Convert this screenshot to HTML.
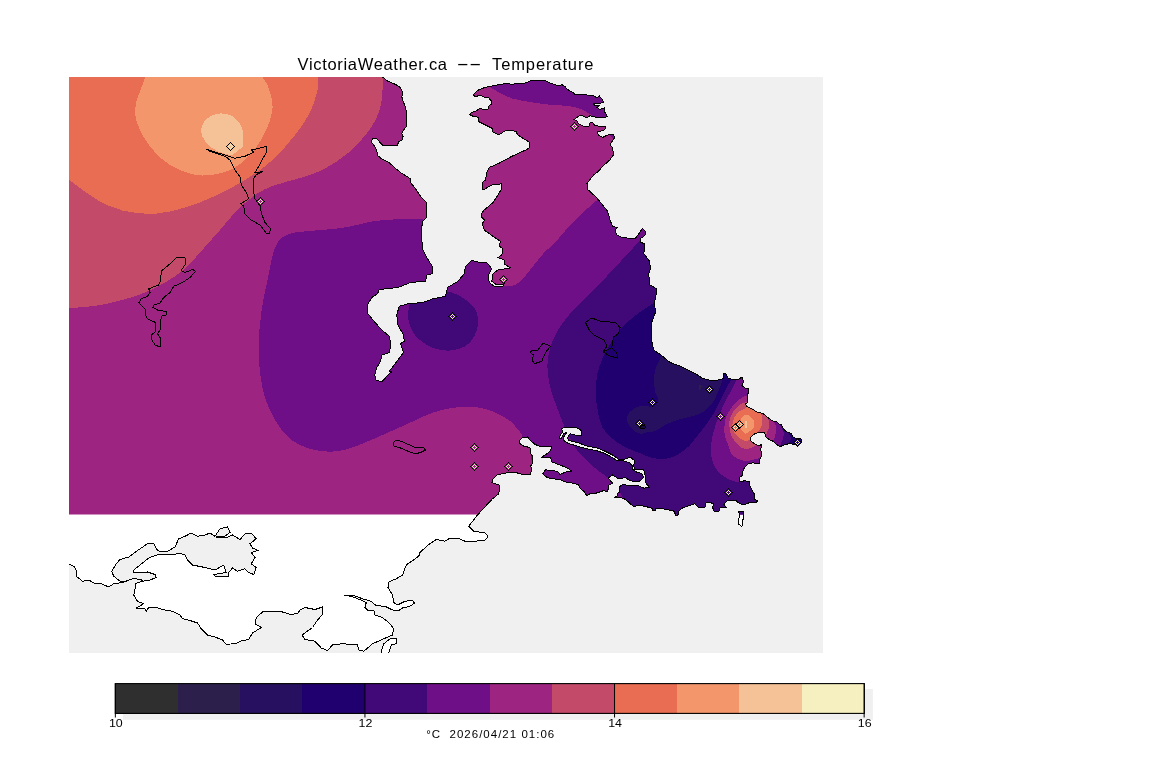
<!DOCTYPE html>
<html><head><meta charset="utf-8"><title>VictoriaWeather.ca -- Temperature</title>
<style>
html,body{margin:0;padding:0;background:#fff;}
body{width:1152px;height:768px;overflow:hidden;position:relative;font-family:"Liberation Sans",sans-serif;}
svg{position:absolute;left:0;top:0;display:block;}
text{font-family:"Liberation Sans",sans-serif;fill:#000;}
</style></head><body>
<svg width="1152" height="768" viewBox="0 0 1152 768">
<defs>
<clipPath id="mapclip"><rect x="69" y="77" width="754" height="576"/></clipPath>
<clipPath id="landclip"><path d="M60,70 L380,70 L380,76 L383,77.25 L387.5,81 L396.25,84.75 L400,87.25 L402.5,91.6 L401.9,97.25 L403.75,102.9 L405.6,107.25 L406.5,113.5 L406.5,126 L403.75,129.75 L401.9,133.5 L403.1,136 L402.5,139.75 L398.75,141.6 L397.5,145 L382.5,145 L378.75,141 L376.25,138.5 L372.5,138.75 L371.5,142.25 L374.4,146 L376.9,151 L377.5,155.4 L381.25,158.5 L388.75,162.25 L395,167.9 L400.5,172.5 L410.5,178.75 L410.5,182.5 L415.5,188.75 L420.5,196.25 L426.25,202.5 L426.25,217.5 L423,221.25 L421,230 L421.75,240 L423,250 L426.75,257.5 L433,267.5 L432.5,273.75 L426.75,275 L425.5,281.25 L410.5,282.5 L398,287.5 L379.25,289.5 L377.5,293.75 L371.75,297.5 L367.5,305 L368,313.75 L373,320 L380.5,328.75 L389.25,336.25 L391,345 L389.25,352.5 L381.75,355 L380.5,361.25 L376.75,367.5 L374.75,375 L376,380 L381.75,382 L389.25,373.75 L391.75,372 L389.25,371.25 L398,360 L403.5,352.5 L400.5,343.75 L404.25,341.25 L403.5,335 L398,325 L396.75,315 L399.25,306.25 L408,303.75 L423,302.5 L433,298.75 L445.5,296.25 L447.5,287.5 L458,281.25 L464.25,273.75 L465.5,266.25 L471.75,260.5 L478,262 L486.75,262.5 L491.75,268.75 L488,276.25 L489.25,282.5 L494.25,286.25 L503,286.25 L504.25,283.75 L496.75,285 L491.75,281.25 L493,273.75 L498,270 L510.5,268 L504.25,263.75 L504.25,260 L498,257.5 L501.75,255 L503,248.75 L499.25,246.25 L500.5,241.25 L493,236.25 L484.25,230 L482.25,223.75 L484.75,220 L481.75,217.5 L481.25,213.75 L484.25,210 L493,202.5 L498,195 L501.75,188.75 L501.75,183.75 L491.75,185 L483,190 L482.5,182.5 L485.5,180 L486.75,172.5 L489.25,167.5 L498,163.75 L512.5,156 L526.25,149.75 L529.4,147.9 L529.4,142.25 L517.5,134.75 L516.25,131.6 L512.5,130.4 L505,131 L499.25,134.5 L498.1,134.75 L492.5,131.6 L492.5,128.5 L483.75,124.1 L478.75,121.6 L478.1,117.25 L472.5,116 L469.4,114.5 L471.25,112.5 L476.25,111 L480,108.25 L483.75,110 L488.1,109.1 L488.75,106 L491.25,104.1 L491.5,101 L488.75,97.9 L485,97.25 L480,95.4 L475,96.6 L473.1,94.75 L478.75,89.75 L485,87.5 L495,85.4 L504,83.75 L512.5,84.1 L526.25,82.9 L531.25,80.4 L545,80.4 L550,82.9 L558.75,86 L561.9,84.5 L565,86.6 L567.5,89.5 L572.5,92.25 L575,94.5 L585,94.75 L593.75,95.75 L596.9,97.9 L599.4,96 L601.9,99.1 L603.5,102.25 L600,103.25 L593.1,103.5 L595,105.4 L600,105 L596.9,107.25 L600,109.5 L604.4,107.9 L604.75,112.25 L607.5,116.6 L603.75,117.5 L596.25,117.25 L590,115.75 L586.25,117.9 L582.5,115.75 L578.75,116 L573.75,119.75 L576.9,120.4 L578.1,123.5 L582.5,126 L589.4,126 L590,122.9 L592.5,122.5 L594.4,125 L600,126.4 L606.25,127 L603.75,130.4 L597.5,131.6 L598.1,134.75 L602.5,137.5 L608.75,134.5 L613.1,134.1 L614.75,137.25 L612.5,141 L610,144.1 L612.5,147.9 L613.5,154.75 L610,159.75 L603.75,165.4 L597.5,172 L593.75,174.75 L587,183.5 L588,189.75 L596.25,197.25 L607.5,211 L610,219.75 L612.5,226.75 L617.5,227.25 L615.5,229.75 L616.25,234.75 L621.25,237.25 L635,239 L642.5,228.5 L645.75,231.5 L645,235.5 L640.5,238.5 L640.5,242.25 L645,244 L643.75,253.5 L649.5,261 L650.5,268.5 L648.75,273.5 L649.5,284.75 L656.25,288.5 L656.25,293.5 L654.5,302.25 L655.5,312.25 L651.25,323.5 L651.25,338.5 L652.5,345 L653.75,350 L662.5,356.25 L670,362.5 L680,366 L687.5,369.75 L696.25,374.1 L702.5,378.5 L712.5,380.75 L721.25,379.5 L723.75,377.9 L723.1,374.1 L725.6,373.25 L728.1,377.9 L732.5,379.5 L738.75,379.1 L741.9,377 L743.75,381.6 L741.9,385.4 L745.6,388.5 L748.75,388.5 L748.75,392.9 L747.5,393.5 L747.5,402.25 L745.6,404.1 L746.9,406.6 L752.5,409.1 L757.5,412.5 L762.5,413.25 L767.5,417.25 L772.5,421 L776.25,421.6 L778.75,423.75 L781.25,424.75 L783.75,429.1 L786.25,431.6 L791.25,433.5 L792.5,436.6 L796.25,438.5 L800.6,438.1 L801.9,441 L800.6,443.5 L797.5,446.6 L795.6,444.1 L792.5,444.1 L790,443.25 L785,444.75 L780,446.6 L776.25,444.1 L772.5,441 L769.4,439.75 L766.25,437.25 L764.4,432.9 L760,432.25 L755,433.5 L750.6,437.25 L750,439.75 L752.5,442.25 L756.25,444.75 L759.4,446 L761.25,444.1 L761.9,446 L760.6,449.1 L761.9,454.75 L760,459.1 L759.4,463.5 L752.5,462.9 L747.5,464.1 L743.1,469.75 L742.5,475.4 L739.4,477.25 L740,481.6 L745,480.75 L749.4,481.6 L749.4,484.75 L751.9,489.75 L754.4,494.1 L755,499.75 L758.1,501 L755,502.9 L748.75,502.9 L743.75,504.75 L740,503.75 L735,500 L727.5,500.4 L723.75,504.1 L726.25,507.25 L720,507.9 L718.75,511.6 L714.4,511.6 L712.5,507.25 L713.75,504.1 L710,502.25 L706.25,502.5 L705,507.25 L698.75,507.9 L695,503.75 L690,505.4 L682.5,507.9 L678.75,511 L678.75,514.1 L676.25,516 L673.75,511 L665,509.1 L655.6,508.5 L655.6,510.4 L652.5,510.4 L652.5,508.5 L646.25,506.6 L640,505.6 L633.1,506.25 L627.5,501.25 L623.1,498.1 L614.4,497.5 L616.9,496.25 L618.1,492.5 L620,491.9 L619.4,486.9 L622.5,484.4 L630,485.6 L636.25,485 L643.75,488.1 L649.4,487.5 L645.6,482.5 L645,475 L643.75,470 L635,469.4 L633.75,466.25 L634.4,460.6 L630.6,457.25 L625,459 L618.75,459.4 L613.75,455.6 L605,451.25 L597.5,448.1 L587.5,446.25 L577.5,442.5 L568.75,440.6 L567.5,437.5 L570,433.75 L575,435 L581.9,435 L581.9,431.25 L578.1,428.1 L570,427.5 L561.9,428.1 L562.25,432.5 L560,435.6 L559.4,438.75 L561.25,438.75 L563.75,433.75 L566.9,431.9 L565.6,434.4 L563.1,437.5 L563.75,440.6 L567.5,443.1 L577.5,446.25 L586.25,448.75 L596.25,450.6 L603.75,453.1 L610,456.25 L616.25,460 L622.5,460.6 L630,463.1 L632.5,466.25 L633.1,470 L636.25,471.9 L641.9,473.75 L643.75,477.5 L639.4,481.25 L635,481.9 L628.75,480 L625,477.1 L621.9,478.75 L617.5,478.1 L612.5,475 L608.1,478.1 L612.5,483.1 L608.1,485.6 L608.75,488.1 L606.9,491.9 L603.75,490.6 L596.25,493.1 L590,493.75 L586.9,495.6 L583.75,491.25 L580,488.1 L578.1,484.4 L572.5,483.1 L565,481.9 L560,479.4 L551.25,478.75 L546.25,476.9 L542.75,474 L545.6,469.75 L551.25,470.6 L557.5,471.25 L560,474.4 L566.25,471.9 L571.9,471.25 L567.5,468.1 L560,465 L551.9,461.9 L550.6,457.9 L541.9,457.25 L549.4,451.9 L551.9,446.9 L540,446.5 L535,444.4 L530.6,440.6 L527.5,436.9 L522.5,437.5 L519.4,440.6 L520,443.75 L523.75,446.25 L530,447.5 L530.6,453.75 L532.5,456.25 L532.9,462.5 L530.6,466.25 L531.9,470 L530,474.6 L522.5,474.6 L517.5,473 L510,472 L508,472.5 L496.75,475 L493,478.75 L491.75,482.5 L499.25,485 L500,487.5 L498.75,493.75 L492.5,498.75 L477.5,515 L468.75,526.25 L473.75,531.25 L485,533 L488,536.25 L485.5,540 L475,541.25 L465,541.25 L457.5,538 L450,538 L445,541.25 L436.25,539.5 L427.5,545.5 L420,552.5 L418.75,556.25 L406.25,565 L402.5,575 L396.25,578.75 L388.75,582 L388,587.5 L392.5,595 L393.75,602.5 L397.5,605 L405,601.25 L412.5,600.5 L414.5,603 L410,606.25 L402.5,608 L398.75,610.5 L392.5,610 L385,606.25 L376.25,605.75 L371.25,601.25 L362.5,598.75 L352.5,595 L344.5,595 L355,597.5 L366.25,602.5 L365,607.5 L367.5,610 L373.75,610 L375,615 L382.5,617.5 L390,623.75 L393.75,628.75 L392.5,635 L383.75,638.75 L372.5,643.75 L363.75,651.25 L358.75,650 L357.5,645 L342.5,643.75 L332.5,645 L327.5,650.5 L321.25,648 L315,641.25 L305,639.5 L302,635 L312.5,627.5 L317.5,620 L322,615 L322.5,607 L315,609.5 L305,607.5 L300,610 L297.5,613.75 L290,614.25 L280,611.25 L272.5,611.25 L262.5,612 L256.25,617.5 L255,623.75 L261.25,627.5 L252.5,633 L248.75,639.5 L242.5,640.5 L235,643.75 L226.25,644.25 L222.5,640 L215,637 L207.5,635 L201.25,628.75 L197.5,623 L190,620.5 L182.5,618.75 L180,615 L172.5,611.25 L162.5,609.5 L155,607 L148.75,607.5 L146.25,611.25 L145,608.75 L136.25,608 L143.75,603.75 L137.5,601.25 L133.75,595 L135,588.75 L135,583.75 L142.5,581.25 L141.25,579.25 L132.5,578.75 L122.5,582.5 L113.75,583.75 L108.75,587 L101.25,583.75 L95,583.75 L88.75,580 L82.5,581.25 L76.25,576.25 L76.25,570 L73.75,566.25 L69.25,564.25 L60,562 Z M738.1,511.25 L743.1,511.6 L743.75,515.4 L742.75,521 L741.9,526.6 L738.75,524.1 L738.1,519.75 L740,515.4 Z"/></clipPath>
<clipPath id="dataclip"><rect x="69" y="77" width="754" height="437.5"/></clipPath>
</defs>
<rect x="0" y="0" width="1152" height="768" fill="#fff"/>
<g clip-path="url(#mapclip)">
<rect x="69" y="77" width="754" height="576" fill="#f0f0f0"/>
<g shape-rendering="crispEdges">
<path d="M60,70 L380,70 L380,76 L383,77.25 L387.5,81 L396.25,84.75 L400,87.25 L402.5,91.6 L401.9,97.25 L403.75,102.9 L405.6,107.25 L406.5,113.5 L406.5,126 L403.75,129.75 L401.9,133.5 L403.1,136 L402.5,139.75 L398.75,141.6 L397.5,145 L382.5,145 L378.75,141 L376.25,138.5 L372.5,138.75 L371.5,142.25 L374.4,146 L376.9,151 L377.5,155.4 L381.25,158.5 L388.75,162.25 L395,167.9 L400.5,172.5 L410.5,178.75 L410.5,182.5 L415.5,188.75 L420.5,196.25 L426.25,202.5 L426.25,217.5 L423,221.25 L421,230 L421.75,240 L423,250 L426.75,257.5 L433,267.5 L432.5,273.75 L426.75,275 L425.5,281.25 L410.5,282.5 L398,287.5 L379.25,289.5 L377.5,293.75 L371.75,297.5 L367.5,305 L368,313.75 L373,320 L380.5,328.75 L389.25,336.25 L391,345 L389.25,352.5 L381.75,355 L380.5,361.25 L376.75,367.5 L374.75,375 L376,380 L381.75,382 L389.25,373.75 L391.75,372 L389.25,371.25 L398,360 L403.5,352.5 L400.5,343.75 L404.25,341.25 L403.5,335 L398,325 L396.75,315 L399.25,306.25 L408,303.75 L423,302.5 L433,298.75 L445.5,296.25 L447.5,287.5 L458,281.25 L464.25,273.75 L465.5,266.25 L471.75,260.5 L478,262 L486.75,262.5 L491.75,268.75 L488,276.25 L489.25,282.5 L494.25,286.25 L503,286.25 L504.25,283.75 L496.75,285 L491.75,281.25 L493,273.75 L498,270 L510.5,268 L504.25,263.75 L504.25,260 L498,257.5 L501.75,255 L503,248.75 L499.25,246.25 L500.5,241.25 L493,236.25 L484.25,230 L482.25,223.75 L484.75,220 L481.75,217.5 L481.25,213.75 L484.25,210 L493,202.5 L498,195 L501.75,188.75 L501.75,183.75 L491.75,185 L483,190 L482.5,182.5 L485.5,180 L486.75,172.5 L489.25,167.5 L498,163.75 L512.5,156 L526.25,149.75 L529.4,147.9 L529.4,142.25 L517.5,134.75 L516.25,131.6 L512.5,130.4 L505,131 L499.25,134.5 L498.1,134.75 L492.5,131.6 L492.5,128.5 L483.75,124.1 L478.75,121.6 L478.1,117.25 L472.5,116 L469.4,114.5 L471.25,112.5 L476.25,111 L480,108.25 L483.75,110 L488.1,109.1 L488.75,106 L491.25,104.1 L491.5,101 L488.75,97.9 L485,97.25 L480,95.4 L475,96.6 L473.1,94.75 L478.75,89.75 L485,87.5 L495,85.4 L504,83.75 L512.5,84.1 L526.25,82.9 L531.25,80.4 L545,80.4 L550,82.9 L558.75,86 L561.9,84.5 L565,86.6 L567.5,89.5 L572.5,92.25 L575,94.5 L585,94.75 L593.75,95.75 L596.9,97.9 L599.4,96 L601.9,99.1 L603.5,102.25 L600,103.25 L593.1,103.5 L595,105.4 L600,105 L596.9,107.25 L600,109.5 L604.4,107.9 L604.75,112.25 L607.5,116.6 L603.75,117.5 L596.25,117.25 L590,115.75 L586.25,117.9 L582.5,115.75 L578.75,116 L573.75,119.75 L576.9,120.4 L578.1,123.5 L582.5,126 L589.4,126 L590,122.9 L592.5,122.5 L594.4,125 L600,126.4 L606.25,127 L603.75,130.4 L597.5,131.6 L598.1,134.75 L602.5,137.5 L608.75,134.5 L613.1,134.1 L614.75,137.25 L612.5,141 L610,144.1 L612.5,147.9 L613.5,154.75 L610,159.75 L603.75,165.4 L597.5,172 L593.75,174.75 L587,183.5 L588,189.75 L596.25,197.25 L607.5,211 L610,219.75 L612.5,226.75 L617.5,227.25 L615.5,229.75 L616.25,234.75 L621.25,237.25 L635,239 L642.5,228.5 L645.75,231.5 L645,235.5 L640.5,238.5 L640.5,242.25 L645,244 L643.75,253.5 L649.5,261 L650.5,268.5 L648.75,273.5 L649.5,284.75 L656.25,288.5 L656.25,293.5 L654.5,302.25 L655.5,312.25 L651.25,323.5 L651.25,338.5 L652.5,345 L653.75,350 L662.5,356.25 L670,362.5 L680,366 L687.5,369.75 L696.25,374.1 L702.5,378.5 L712.5,380.75 L721.25,379.5 L723.75,377.9 L723.1,374.1 L725.6,373.25 L728.1,377.9 L732.5,379.5 L738.75,379.1 L741.9,377 L743.75,381.6 L741.9,385.4 L745.6,388.5 L748.75,388.5 L748.75,392.9 L747.5,393.5 L747.5,402.25 L745.6,404.1 L746.9,406.6 L752.5,409.1 L757.5,412.5 L762.5,413.25 L767.5,417.25 L772.5,421 L776.25,421.6 L778.75,423.75 L781.25,424.75 L783.75,429.1 L786.25,431.6 L791.25,433.5 L792.5,436.6 L796.25,438.5 L800.6,438.1 L801.9,441 L800.6,443.5 L797.5,446.6 L795.6,444.1 L792.5,444.1 L790,443.25 L785,444.75 L780,446.6 L776.25,444.1 L772.5,441 L769.4,439.75 L766.25,437.25 L764.4,432.9 L760,432.25 L755,433.5 L750.6,437.25 L750,439.75 L752.5,442.25 L756.25,444.75 L759.4,446 L761.25,444.1 L761.9,446 L760.6,449.1 L761.9,454.75 L760,459.1 L759.4,463.5 L752.5,462.9 L747.5,464.1 L743.1,469.75 L742.5,475.4 L739.4,477.25 L740,481.6 L745,480.75 L749.4,481.6 L749.4,484.75 L751.9,489.75 L754.4,494.1 L755,499.75 L758.1,501 L755,502.9 L748.75,502.9 L743.75,504.75 L740,503.75 L735,500 L727.5,500.4 L723.75,504.1 L726.25,507.25 L720,507.9 L718.75,511.6 L714.4,511.6 L712.5,507.25 L713.75,504.1 L710,502.25 L706.25,502.5 L705,507.25 L698.75,507.9 L695,503.75 L690,505.4 L682.5,507.9 L678.75,511 L678.75,514.1 L676.25,516 L673.75,511 L665,509.1 L655.6,508.5 L655.6,510.4 L652.5,510.4 L652.5,508.5 L646.25,506.6 L640,505.6 L633.1,506.25 L627.5,501.25 L623.1,498.1 L614.4,497.5 L616.9,496.25 L618.1,492.5 L620,491.9 L619.4,486.9 L622.5,484.4 L630,485.6 L636.25,485 L643.75,488.1 L649.4,487.5 L645.6,482.5 L645,475 L643.75,470 L635,469.4 L633.75,466.25 L634.4,460.6 L630.6,457.25 L625,459 L618.75,459.4 L613.75,455.6 L605,451.25 L597.5,448.1 L587.5,446.25 L577.5,442.5 L568.75,440.6 L567.5,437.5 L570,433.75 L575,435 L581.9,435 L581.9,431.25 L578.1,428.1 L570,427.5 L561.9,428.1 L562.25,432.5 L560,435.6 L559.4,438.75 L561.25,438.75 L563.75,433.75 L566.9,431.9 L565.6,434.4 L563.1,437.5 L563.75,440.6 L567.5,443.1 L577.5,446.25 L586.25,448.75 L596.25,450.6 L603.75,453.1 L610,456.25 L616.25,460 L622.5,460.6 L630,463.1 L632.5,466.25 L633.1,470 L636.25,471.9 L641.9,473.75 L643.75,477.5 L639.4,481.25 L635,481.9 L628.75,480 L625,477.1 L621.9,478.75 L617.5,478.1 L612.5,475 L608.1,478.1 L612.5,483.1 L608.1,485.6 L608.75,488.1 L606.9,491.9 L603.75,490.6 L596.25,493.1 L590,493.75 L586.9,495.6 L583.75,491.25 L580,488.1 L578.1,484.4 L572.5,483.1 L565,481.9 L560,479.4 L551.25,478.75 L546.25,476.9 L542.75,474 L545.6,469.75 L551.25,470.6 L557.5,471.25 L560,474.4 L566.25,471.9 L571.9,471.25 L567.5,468.1 L560,465 L551.9,461.9 L550.6,457.9 L541.9,457.25 L549.4,451.9 L551.9,446.9 L540,446.5 L535,444.4 L530.6,440.6 L527.5,436.9 L522.5,437.5 L519.4,440.6 L520,443.75 L523.75,446.25 L530,447.5 L530.6,453.75 L532.5,456.25 L532.9,462.5 L530.6,466.25 L531.9,470 L530,474.6 L522.5,474.6 L517.5,473 L510,472 L508,472.5 L496.75,475 L493,478.75 L491.75,482.5 L499.25,485 L500,487.5 L498.75,493.75 L492.5,498.75 L477.5,515 L468.75,526.25 L473.75,531.25 L485,533 L488,536.25 L485.5,540 L475,541.25 L465,541.25 L457.5,538 L450,538 L445,541.25 L436.25,539.5 L427.5,545.5 L420,552.5 L418.75,556.25 L406.25,565 L402.5,575 L396.25,578.75 L388.75,582 L388,587.5 L392.5,595 L393.75,602.5 L397.5,605 L405,601.25 L412.5,600.5 L414.5,603 L410,606.25 L402.5,608 L398.75,610.5 L392.5,610 L385,606.25 L376.25,605.75 L371.25,601.25 L362.5,598.75 L352.5,595 L344.5,595 L355,597.5 L366.25,602.5 L365,607.5 L367.5,610 L373.75,610 L375,615 L382.5,617.5 L390,623.75 L393.75,628.75 L392.5,635 L383.75,638.75 L372.5,643.75 L363.75,651.25 L358.75,650 L357.5,645 L342.5,643.75 L332.5,645 L327.5,650.5 L321.25,648 L315,641.25 L305,639.5 L302,635 L312.5,627.5 L317.5,620 L322,615 L322.5,607 L315,609.5 L305,607.5 L300,610 L297.5,613.75 L290,614.25 L280,611.25 L272.5,611.25 L262.5,612 L256.25,617.5 L255,623.75 L261.25,627.5 L252.5,633 L248.75,639.5 L242.5,640.5 L235,643.75 L226.25,644.25 L222.5,640 L215,637 L207.5,635 L201.25,628.75 L197.5,623 L190,620.5 L182.5,618.75 L180,615 L172.5,611.25 L162.5,609.5 L155,607 L148.75,607.5 L146.25,611.25 L145,608.75 L136.25,608 L143.75,603.75 L137.5,601.25 L133.75,595 L135,588.75 L135,583.75 L142.5,581.25 L141.25,579.25 L132.5,578.75 L122.5,582.5 L113.75,583.75 L108.75,587 L101.25,583.75 L95,583.75 L88.75,580 L82.5,581.25 L76.25,576.25 L76.25,570 L73.75,566.25 L69.25,564.25 L60,562 Z M738.1,511.25 L743.1,511.6 L743.75,515.4 L742.75,521 L741.9,526.6 L738.75,524.1 L738.1,519.75 L740,515.4 Z M381.25,660 L381.25,651.25 L383.75,643.75 L390,638.75 L396.25,638.75 L396.25,643.75 L391.25,645 L388.75,652.5 L388.75,660 Z" fill="#fff"/>
<g clip-path="url(#dataclip)"><g clip-path="url(#landclip)">
<rect x="60" y="70" width="780" height="450" fill="#9e2482"/>
<path d="M383,70 C383,72.33 383.1,74.67 383,77 C382.68,84.67 382.92,92.41 381.75,100 C380.82,106 379.3,112 376.75,117.5 C373.83,123.79 369.86,129.61 365.5,135 C360.23,141.5 354.49,147.72 348,153 C340.08,159.45 331.6,165.36 322.5,170 C314.63,174.01 305.91,176.06 297.5,178.75 C289.24,181.39 280.6,182.9 272.5,186 C266.37,188.34 260.36,191.21 255,195 C247.77,200.11 241.26,206.24 235,212.5 C229.57,217.93 225.06,224.22 220,230 C213.39,237.55 206.73,245.05 200,252.5 C195.06,257.97 190.6,263.95 185,268.75 C178.86,274.02 171.96,278.37 165,282.5 C158.59,286.31 151.89,289.66 145,292.5 C137.69,295.51 130.13,297.91 122.5,300 C114.27,302.25 105.93,304.19 97.5,305.5 C88.15,306.95 78.67,307.37 69.25,308.25 C66.17,308.54 63.08,308.75 60,309 L60,70 Z" fill="#c44a69"/>
<path d="M318,70 C318,72.33 318.06,74.67 318,77 C317.89,81.34 318.45,85.77 317.5,90 C315.76,97.71 313.54,105.43 310,112.5 C305.97,120.56 300.59,127.93 295,135 C288.05,143.8 280.83,152.5 272.5,160 C264.08,167.58 254.61,173.99 245,180 C235.39,186.01 225.3,191.28 215,196 C205.26,200.46 195.27,204.46 185,207.5 C175.2,210.4 165.2,213.26 155,213.75 C144.13,214.27 133.09,213.03 122.5,210.5 C113.71,208.4 105.34,204.49 97.5,200 C87.49,194.27 78.49,186.9 69.25,180 C65.98,177.56 63.08,174.67 60,172 L60,70 Z" fill="#e96d53"/>
<path d="M147,60 C146.33,65.67 146.33,71.45 145,77 C142.32,88.18 135.49,98.52 135,110 C134.63,118.69 138.45,127.3 142.5,135 C146.93,143.41 153.05,151.02 160,157.5 C165.75,162.86 172.76,166.93 180,170 C187.11,173.01 194.78,175.5 202.5,175.5 C211.85,175.5 221.42,173.7 230,170 C237.65,166.7 244.31,161.09 250,155 C256.15,148.41 261.14,140.65 265,132.5 C268.72,124.64 272.04,116.19 272.5,107.5 C272.9,99.83 269.89,92.3 267.5,85 C266.52,82.01 263.4,80.01 262.5,77 C260.85,71.51 260.83,65.67 260,60 Z" fill="#f3966b"/>
<path d="M232,155.5 C228.67,154.67 225.22,154.21 222,153 C218.51,151.69 215.04,150.15 212,148 C209.3,146.1 206.79,143.77 205,141 C203.05,137.99 201.19,134.59 201,131 C200.83,127.84 202.25,124.63 204,122 C205.7,119.44 208.29,117.44 211,116 C213.75,114.54 216.89,113.66 220,113.5 C223.37,113.32 226.89,113.7 230,115 C233.08,116.28 235.87,118.44 238,121 C240.15,123.58 241.68,126.75 242.5,130 C243.32,133.23 242.7,136.67 242.8,140 L242.5,147 Z" fill="#f5c297"/>
<path d="M423,219.25 C414.67,219.25 406.33,218.92 398,219.25 C389.65,219.58 381.26,219.97 373,221.25 C364.55,222.56 356.43,225.54 348,227 C339.57,228.46 331.01,229.12 322.5,230 C313.34,230.95 304.05,230.8 295,232.5 C290.59,233.33 286.09,234.81 282.5,237.5 C279.17,240 276.39,243.57 275,247.5 C271.3,257.98 269.8,269.12 267.5,280 C265.22,290.79 262.72,301.57 261.25,312.5 C259.8,323.27 258.98,334.14 258.75,345 C258.56,354.17 258.92,363.39 260,372.5 C261,380.94 262.44,389.4 265,397.5 C267.47,405.33 270.75,412.98 275,420 C279.15,426.84 283.82,433.67 290,438.75 C295.76,443.48 302.91,446.45 310,448.75 C316.41,450.83 323.26,451.71 330,451.75 C336.07,451.79 342.15,450.62 348,449 C354.89,447.1 361.38,443.94 368,441.25 C373.88,438.86 379.69,436.31 385.5,433.75 C393.86,430.06 402.16,426.23 410.5,422.5 C417.99,419.15 425.21,415.1 433,412.5 C440.29,410.07 447.86,408.35 455.5,407.5 C462.95,406.67 470.56,406.57 478,407.5 C484.02,408.25 489.91,410.14 495.5,412.5 C500.83,414.76 505.81,417.86 510.5,421.25 C512.79,422.91 514.4,425.35 516.25,427.5 C517.99,429.52 519.81,431.51 521.25,433.75 C522.08,435.04 522.36,436.61 523,438 C523.94,440.03 524.68,442.19 526,444 C527.39,445.91 529.33,447.33 531,449 L532,470 L525,480 L525,520 L830,520 L830,200 L597.5,199.75 C592.67,204 587.69,208.09 583,212.5 C577.85,217.34 572.8,222.3 568,227.5 C562.79,233.15 558.28,239.41 553,245 C551.17,246.94 548.64,248.11 546.75,250 C543.62,253.13 540.84,256.6 538,260 C534.58,264.1 531.39,268.38 528,272.5 C525.56,275.47 523.43,278.77 520.5,281.25 C517.94,283.42 515.02,285.49 511.75,286.25 C508.89,286.91 505.92,285.62 503,285.3 L496,285.7 L490.5,282 L490.3,276 L493,270 L497,266 L497,255 L460,250 L430,230 Z" fill="#6f0f87"/>
<path d="M488,86 C492,88.3 495.89,90.8 500,92.9 C504.07,94.97 508.13,97.19 512.5,98.5 C518.61,100.33 524.96,101.2 531.25,102.25 C537.47,103.29 543.73,104.12 550,104.75 C556.23,105.37 562.55,105.14 568.75,106 C573,106.59 577.24,107.57 581.25,109.1 C584.39,110.3 587.04,112.5 590,114.1 C592.3,115.34 594.49,116.91 597,117.6 C602.89,119.22 609,119.87 615,121 L615,70 L485,70 Z" fill="#6f0f87"/>
<path d="M610,133 L616,133 L616,140 L614,139.5 L612,138 L610.5,135.5 Z" fill="#6f0f87"/>
<path d="M409.25,305 C408.83,309.17 407.43,313.35 408,317.5 C408.71,322.72 410.29,327.98 413,332.5 C415.43,336.54 419.18,339.74 423,342.5 C426.78,345.23 431.03,347.45 435.5,348.75 C440.33,350.16 445.48,350.92 450.5,350.5 C455.68,350.07 461.04,348.92 465.5,346.25 C469.3,343.97 472,340.07 474.25,336.25 C476.25,332.84 477.59,328.93 478,325 C478.44,320.84 478.14,316.45 476.75,312.5 C475.56,309.12 473.03,306.28 470.5,303.75 C467.55,300.8 464.07,298.39 460.5,296.25 C457.78,294.62 454.67,293.75 451.75,292.5 L440,290 L415,298 Z" fill="#410878"/>
<path d="M639.5,241 C626.33,255.17 613.3,269.46 600,283.5 C595.14,288.63 590.06,293.56 585,298.5 C582.72,300.73 580.15,302.65 578,305 C572.81,310.66 567.47,316.25 563,322.5 C559.09,327.97 555.65,333.82 553,340 C550.61,345.58 548.86,351.49 548,357.5 C547.18,363.27 547.38,369.2 548,375 C548.64,380.93 550.11,386.76 551.75,392.5 C553.45,398.46 555.85,404.19 558,410 C559.85,415.02 561.84,420 563.75,425 C564.51,427 565.07,429.07 566,431 C567.16,433.42 568.68,435.66 570,438 C571.68,440.96 573.18,444.03 575,446.9 C576.52,449.29 578.14,451.62 580,453.75 C582.32,456.42 584.95,458.81 587.5,461.25 C589.95,463.59 592.4,465.93 595,468.1 C597.4,470.1 599.97,471.91 602.5,473.75 C604.55,475.24 606.67,476.65 608.75,478.1 L612,481 L613,486 L611,492 L612,500 L612,520 L775,520 L775,483 L750,481.2 L740,481.6 C738.33,481.6 736.61,482.03 735,481.6 C731.94,480.78 728.99,479.48 726.25,477.9 C723.54,476.34 720.91,474.52 718.75,472.25 C716.68,470.07 715.01,467.48 713.75,464.75 C712.48,462 711.6,459.01 711.25,456 C710.76,451.86 710.84,447.65 711.25,443.5 C711.67,439.27 712.67,435.11 713.75,431 C714.76,427.18 716.13,423.46 717.5,419.75 C719.05,415.54 720.68,411.35 722.5,407.25 C724.01,403.84 725.75,400.54 727.5,397.25 C729.08,394.29 730.93,391.47 732.5,388.5 C734.06,385.55 735.43,382.5 736.9,379.5 L738,370 L715,366 L690,355 L672,345 L664,330 L664,300 L665,250 L650,241 L640.5,240.5 Z" fill="#410878"/>
<path d="M617,492.5 L620,492 L623,498 L614.5,497.5 Z" fill="#6f0f87"/>
<path d="M780,420 C780,421.58 779.54,423.24 780,424.75 C780.82,427.42 783.29,429.49 783.75,432.25 C784.17,434.75 783.14,437.3 782.5,439.75 C781.89,442.1 780.58,444.24 780,446.6 C779.73,447.7 780,448.87 780,450 L810,450 L810,420 Z" fill="#410878"/>
<path d="M788.75,430 C788.75,431.17 788.42,432.38 788.75,433.5 C789.28,435.29 791.25,436.64 791.25,438.5 C791.25,440.36 789.35,441.74 788.75,443.5 C788.26,444.94 788.25,446.5 788,448 L810,448 L810,430 Z" fill="#20006e"/>
<path d="M654.5,302.25 C648.42,306.42 642.04,310.18 636.25,314.75 C630.93,318.95 625.81,323.48 621.25,328.5 C617.44,332.69 614.25,337.44 611.25,342.25 C607.99,347.47 604.98,352.87 602.5,358.5 C600.38,363.32 598.54,368.33 597.5,373.5 C596.28,379.57 595.67,385.81 595.75,392 C595.84,398.87 596.72,405.75 598,412.5 C598.98,417.63 600.25,422.79 602.5,427.5 C603.9,430.44 606.45,432.7 608.75,435 C611.47,437.72 614.33,440.32 617.5,442.5 C621.04,444.93 624.87,446.91 628.75,448.75 C632.81,450.67 637.06,452.14 641.25,453.75 C644.98,455.19 648.6,457.02 652.5,457.9 C656.58,458.82 660.85,459.62 665,459.1 C669.38,458.55 673.55,456.72 677.5,454.75 C680.71,453.15 683.42,450.7 686.25,448.5 C687.6,447.45 688.86,446.28 690,445 C692.2,442.52 694.19,439.85 696.25,437.25 C699.19,433.52 702.18,429.82 705,426 C708.02,421.91 711.13,417.86 713.75,413.5 C716.15,409.51 717.92,405.17 720,401 C722.08,396.83 724.09,392.63 726.25,388.5 C727.84,385.46 729.58,382.5 731.25,379.5 L731,370 L715,366 L690,355 L672,345 L664,330 L664,300 Z" fill="#20006e"/>
<path d="M660,358.75 C658.33,362.5 656.05,366.03 655,370 C654.15,373.23 654.4,376.66 654.4,380 C654.4,384 654.19,388.08 655,392 C655.42,394.05 657.56,395.46 658,397.5 C658.43,399.46 658.73,401.92 657.5,403.5 C656.03,405.38 653.36,406.16 651,406.5 C647.37,407.02 643.54,405.02 640,406 C635.96,407.11 632.1,409.43 629.25,412.5 C627.47,414.41 626.86,417.39 627,420 C627.13,422.31 628.66,424.37 630,426.25 C631.37,428.17 633.04,429.94 635,431.25 C636.87,432.49 639.01,433.62 641.25,433.75 C643.41,433.88 645.37,432.39 647.5,432 C649.97,431.55 652.67,432.18 655,431.25 C658.65,429.79 661.48,426.76 665,425 C669.01,422.99 673.22,421.36 677.5,420 C682.41,418.44 687.58,417.78 692.5,416.25 C695.93,415.19 699.44,414.13 702.5,412.25 C705.77,410.24 708.77,407.68 711.25,404.75 C713.42,402.19 714.75,399 716.25,396 C717.67,393.16 718.86,390.21 720,387.25 C720.95,384.79 721.67,382.25 722.5,379.75 L722,372 L700,362 L680,355 L662,350 Z" fill="#26105f"/>
<path d="M698,386 L700,385 L701,386 L703,386.5 L701,387.3 L700.5,389.5 L699,389.5 L699.3,387.3 Z" fill="#2c1f4b"/>
<path d="M747.5,395.4 C745.8,395.91 744.02,396.33 742.5,397.25 C740.22,398.64 738.14,400.36 736.25,402.25 C733.95,404.55 731.78,407.03 730,409.75 C728.21,412.48 726.59,415.39 725.6,418.5 C724.7,421.3 724.5,424.31 724.4,427.25 C724.3,430.17 724.4,433.14 725,436 C725.64,439.03 727.06,441.84 728.1,444.75 C729.14,447.67 729.5,450.94 731.25,453.5 C732.76,455.7 735.11,457.31 737.5,458.5 C740.21,459.86 743.22,460.9 746.25,461 C749.23,461.1 752.09,459.76 755,459.1 C756.67,458.72 758.41,458.55 760,457.9 C761.78,457.17 764.07,456.69 765,455 C766.3,452.65 764.66,449.33 766,447 C767.37,444.63 770.92,444.23 772.5,442 C774.25,439.54 774.91,436.44 775.6,433.5 C776.17,431.06 776.74,428.46 776.25,426 C775.86,424.07 774.07,422.71 773.1,421 C771.99,419.04 771.69,416.49 770,415 C765.5,411.02 759.25,409.25 755,405 C752.36,402.36 752.29,397.94 750,395 C749.48,394.33 748.31,395.16 747.5,395.4 Z" fill="#9e2482"/>
<path d="M745.6,402.25 C743.73,403.08 741.64,403.54 740,404.75 C737.63,406.5 735.48,408.62 733.75,411 C732.11,413.26 730.78,415.82 730,418.5 C729.3,420.91 729.3,423.49 729.4,426 C729.5,428.53 729.84,431.09 730.6,433.5 C731.3,435.72 732.43,437.83 733.75,439.75 C735.17,441.82 736.82,443.79 738.75,445.4 C740.61,446.95 742.63,448.63 745,449.1 C747.08,449.52 749.23,448.56 751.25,447.9 C753.02,447.32 754.64,446.33 756.25,445.4 C756.9,445.03 757.42,444.47 758,444 L755,438 L766.25,434.1 C767.08,432.23 768.17,430.46 768.75,428.5 C769.23,426.89 769.59,425.17 769.4,423.5 C769.16,421.42 768.25,419.46 767.5,417.5 C766.78,415.62 765.83,413.83 765,412 L750,403 Z" fill="#c44a69"/>
<path d="M745,408.5 C743.33,409.33 741.5,409.9 740,411 C738.33,412.23 736.78,413.69 735.6,415.4 C734.44,417.08 733.62,419.02 733.1,421 C732.57,423.02 732.19,425.18 732.5,427.25 C732.84,429.47 733.76,431.63 735,433.5 C736.31,435.46 738.11,437.09 740,438.5 C741.49,439.62 743.15,440.75 745,441 C746.51,441.2 748.03,440.43 749.4,439.75 C750.18,439.36 750.64,438.52 751.25,437.9 C752.51,436.61 753.66,435.21 755,434 C755.75,433.32 756.81,433 757.5,432.25 C758.92,430.72 760.4,429.15 761.25,427.25 C762.11,425.31 762.5,423.12 762.5,421 C762.5,418.66 762.21,416.23 761.25,414.1 C760.64,412.73 759.21,411.87 758,411 C755.45,409.16 753.09,406.59 750,406 C748.17,405.65 746.67,407.67 745,408.5 Z" fill="#e96d53"/>
<path d="M744.5,415.1 L748.4,415.1 L754.3,421 L754.3,427 L750,431 L745.6,433.9 L740.9,429.5 L740.9,419.2 Z" fill="#f3966b"/>
<path d="M744.9,421 L746.8,421 L746.8,428 L744.9,428 Z" fill="#f5c297"/>
</g></g>
<path d="M120,581.25 L113.75,576.25 L111.75,571.25 L116.25,563.75 L120,559.5 L128.75,557 L137.5,550.5 L147.5,543.75 L153.75,543.75 L156.25,548.75 L160,552 L167.5,551.25 L175,547 L178.75,538.75 L185,536.25 L191.25,533 L197.5,536.25 L205,535 L210,533 L215,536.25 L220,528.75 L227.5,527 L230,532.5 L225,536.25 L216.25,537 L226.25,538 L232.5,535 L240,539.5 L245,533.75 L251.25,533 L256.25,538.75 L250,543.75 L252.5,548 L258,550.5 L251.25,552.5 L255,557.5 L251.25,563.75 L256.25,567.5 L253.75,574.5 L248.75,572.5 L245,568.75 L237.5,571.25 L232.5,568 L228.75,572.5 L228.75,577 L215,576.25 L213.75,574.5 L226.25,572.5 L223.75,565 L215,570 L205,567.5 L192.5,565 L187.5,560 L185,555 L180,553.25 L170,555 L158.75,554.25 L148.75,558 L140,565 L133.75,570 L133.75,572.5 L147.5,572 L155,574.5 L156.25,577.5 L150,580 L142.5,581.25 L141.25,579.25 L132.5,578.75 L126.25,581.25 Z" fill="#f0f0f0" stroke="#000" stroke-width="1"/>
<path d="M60,70 L380,70 L380,76 L383,77.25 L387.5,81 L396.25,84.75 L400,87.25 L402.5,91.6 L401.9,97.25 L403.75,102.9 L405.6,107.25 L406.5,113.5 L406.5,126 L403.75,129.75 L401.9,133.5 L403.1,136 L402.5,139.75 L398.75,141.6 L397.5,145 L382.5,145 L378.75,141 L376.25,138.5 L372.5,138.75 L371.5,142.25 L374.4,146 L376.9,151 L377.5,155.4 L381.25,158.5 L388.75,162.25 L395,167.9 L400.5,172.5 L410.5,178.75 L410.5,182.5 L415.5,188.75 L420.5,196.25 L426.25,202.5 L426.25,217.5 L423,221.25 L421,230 L421.75,240 L423,250 L426.75,257.5 L433,267.5 L432.5,273.75 L426.75,275 L425.5,281.25 L410.5,282.5 L398,287.5 L379.25,289.5 L377.5,293.75 L371.75,297.5 L367.5,305 L368,313.75 L373,320 L380.5,328.75 L389.25,336.25 L391,345 L389.25,352.5 L381.75,355 L380.5,361.25 L376.75,367.5 L374.75,375 L376,380 L381.75,382 L389.25,373.75 L391.75,372 L389.25,371.25 L398,360 L403.5,352.5 L400.5,343.75 L404.25,341.25 L403.5,335 L398,325 L396.75,315 L399.25,306.25 L408,303.75 L423,302.5 L433,298.75 L445.5,296.25 L447.5,287.5 L458,281.25 L464.25,273.75 L465.5,266.25 L471.75,260.5 L478,262 L486.75,262.5 L491.75,268.75 L488,276.25 L489.25,282.5 L494.25,286.25 L503,286.25 L504.25,283.75 L496.75,285 L491.75,281.25 L493,273.75 L498,270 L510.5,268 L504.25,263.75 L504.25,260 L498,257.5 L501.75,255 L503,248.75 L499.25,246.25 L500.5,241.25 L493,236.25 L484.25,230 L482.25,223.75 L484.75,220 L481.75,217.5 L481.25,213.75 L484.25,210 L493,202.5 L498,195 L501.75,188.75 L501.75,183.75 L491.75,185 L483,190 L482.5,182.5 L485.5,180 L486.75,172.5 L489.25,167.5 L498,163.75 L512.5,156 L526.25,149.75 L529.4,147.9 L529.4,142.25 L517.5,134.75 L516.25,131.6 L512.5,130.4 L505,131 L499.25,134.5 L498.1,134.75 L492.5,131.6 L492.5,128.5 L483.75,124.1 L478.75,121.6 L478.1,117.25 L472.5,116 L469.4,114.5 L471.25,112.5 L476.25,111 L480,108.25 L483.75,110 L488.1,109.1 L488.75,106 L491.25,104.1 L491.5,101 L488.75,97.9 L485,97.25 L480,95.4 L475,96.6 L473.1,94.75 L478.75,89.75 L485,87.5 L495,85.4 L504,83.75 L512.5,84.1 L526.25,82.9 L531.25,80.4 L545,80.4 L550,82.9 L558.75,86 L561.9,84.5 L565,86.6 L567.5,89.5 L572.5,92.25 L575,94.5 L585,94.75 L593.75,95.75 L596.9,97.9 L599.4,96 L601.9,99.1 L603.5,102.25 L600,103.25 L593.1,103.5 L595,105.4 L600,105 L596.9,107.25 L600,109.5 L604.4,107.9 L604.75,112.25 L607.5,116.6 L603.75,117.5 L596.25,117.25 L590,115.75 L586.25,117.9 L582.5,115.75 L578.75,116 L573.75,119.75 L576.9,120.4 L578.1,123.5 L582.5,126 L589.4,126 L590,122.9 L592.5,122.5 L594.4,125 L600,126.4 L606.25,127 L603.75,130.4 L597.5,131.6 L598.1,134.75 L602.5,137.5 L608.75,134.5 L613.1,134.1 L614.75,137.25 L612.5,141 L610,144.1 L612.5,147.9 L613.5,154.75 L610,159.75 L603.75,165.4 L597.5,172 L593.75,174.75 L587,183.5 L588,189.75 L596.25,197.25 L607.5,211 L610,219.75 L612.5,226.75 L617.5,227.25 L615.5,229.75 L616.25,234.75 L621.25,237.25 L635,239 L642.5,228.5 L645.75,231.5 L645,235.5 L640.5,238.5 L640.5,242.25 L645,244 L643.75,253.5 L649.5,261 L650.5,268.5 L648.75,273.5 L649.5,284.75 L656.25,288.5 L656.25,293.5 L654.5,302.25 L655.5,312.25 L651.25,323.5 L651.25,338.5 L652.5,345 L653.75,350 L662.5,356.25 L670,362.5 L680,366 L687.5,369.75 L696.25,374.1 L702.5,378.5 L712.5,380.75 L721.25,379.5 L723.75,377.9 L723.1,374.1 L725.6,373.25 L728.1,377.9 L732.5,379.5 L738.75,379.1 L741.9,377 L743.75,381.6 L741.9,385.4 L745.6,388.5 L748.75,388.5 L748.75,392.9 L747.5,393.5 L747.5,402.25 L745.6,404.1 L746.9,406.6 L752.5,409.1 L757.5,412.5 L762.5,413.25 L767.5,417.25 L772.5,421 L776.25,421.6 L778.75,423.75 L781.25,424.75 L783.75,429.1 L786.25,431.6 L791.25,433.5 L792.5,436.6 L796.25,438.5 L800.6,438.1 L801.9,441 L800.6,443.5 L797.5,446.6 L795.6,444.1 L792.5,444.1 L790,443.25 L785,444.75 L780,446.6 L776.25,444.1 L772.5,441 L769.4,439.75 L766.25,437.25 L764.4,432.9 L760,432.25 L755,433.5 L750.6,437.25 L750,439.75 L752.5,442.25 L756.25,444.75 L759.4,446 L761.25,444.1 L761.9,446 L760.6,449.1 L761.9,454.75 L760,459.1 L759.4,463.5 L752.5,462.9 L747.5,464.1 L743.1,469.75 L742.5,475.4 L739.4,477.25 L740,481.6 L745,480.75 L749.4,481.6 L749.4,484.75 L751.9,489.75 L754.4,494.1 L755,499.75 L758.1,501 L755,502.9 L748.75,502.9 L743.75,504.75 L740,503.75 L735,500 L727.5,500.4 L723.75,504.1 L726.25,507.25 L720,507.9 L718.75,511.6 L714.4,511.6 L712.5,507.25 L713.75,504.1 L710,502.25 L706.25,502.5 L705,507.25 L698.75,507.9 L695,503.75 L690,505.4 L682.5,507.9 L678.75,511 L678.75,514.1 L676.25,516 L673.75,511 L665,509.1 L655.6,508.5 L655.6,510.4 L652.5,510.4 L652.5,508.5 L646.25,506.6 L640,505.6 L633.1,506.25 L627.5,501.25 L623.1,498.1 L614.4,497.5 L616.9,496.25 L618.1,492.5 L620,491.9 L619.4,486.9 L622.5,484.4 L630,485.6 L636.25,485 L643.75,488.1 L649.4,487.5 L645.6,482.5 L645,475 L643.75,470 L635,469.4 L633.75,466.25 L634.4,460.6 L630.6,457.25 L625,459 L618.75,459.4 L613.75,455.6 L605,451.25 L597.5,448.1 L587.5,446.25 L577.5,442.5 L568.75,440.6 L567.5,437.5 L570,433.75 L575,435 L581.9,435 L581.9,431.25 L578.1,428.1 L570,427.5 L561.9,428.1 L562.25,432.5 L560,435.6 L559.4,438.75 L561.25,438.75 L563.75,433.75 L566.9,431.9 L565.6,434.4 L563.1,437.5 L563.75,440.6 L567.5,443.1 L577.5,446.25 L586.25,448.75 L596.25,450.6 L603.75,453.1 L610,456.25 L616.25,460 L622.5,460.6 L630,463.1 L632.5,466.25 L633.1,470 L636.25,471.9 L641.9,473.75 L643.75,477.5 L639.4,481.25 L635,481.9 L628.75,480 L625,477.1 L621.9,478.75 L617.5,478.1 L612.5,475 L608.1,478.1 L612.5,483.1 L608.1,485.6 L608.75,488.1 L606.9,491.9 L603.75,490.6 L596.25,493.1 L590,493.75 L586.9,495.6 L583.75,491.25 L580,488.1 L578.1,484.4 L572.5,483.1 L565,481.9 L560,479.4 L551.25,478.75 L546.25,476.9 L542.75,474 L545.6,469.75 L551.25,470.6 L557.5,471.25 L560,474.4 L566.25,471.9 L571.9,471.25 L567.5,468.1 L560,465 L551.9,461.9 L550.6,457.9 L541.9,457.25 L549.4,451.9 L551.9,446.9 L540,446.5 L535,444.4 L530.6,440.6 L527.5,436.9 L522.5,437.5 L519.4,440.6 L520,443.75 L523.75,446.25 L530,447.5 L530.6,453.75 L532.5,456.25 L532.9,462.5 L530.6,466.25 L531.9,470 L530,474.6 L522.5,474.6 L517.5,473 L510,472 L508,472.5 L496.75,475 L493,478.75 L491.75,482.5 L499.25,485 L500,487.5 L498.75,493.75 L492.5,498.75 L477.5,515 L468.75,526.25 L473.75,531.25 L485,533 L488,536.25 L485.5,540 L475,541.25 L465,541.25 L457.5,538 L450,538 L445,541.25 L436.25,539.5 L427.5,545.5 L420,552.5 L418.75,556.25 L406.25,565 L402.5,575 L396.25,578.75 L388.75,582 L388,587.5 L392.5,595 L393.75,602.5 L397.5,605 L405,601.25 L412.5,600.5 L414.5,603 L410,606.25 L402.5,608 L398.75,610.5 L392.5,610 L385,606.25 L376.25,605.75 L371.25,601.25 L362.5,598.75 L352.5,595 L344.5,595 L355,597.5 L366.25,602.5 L365,607.5 L367.5,610 L373.75,610 L375,615 L382.5,617.5 L390,623.75 L393.75,628.75 L392.5,635 L383.75,638.75 L372.5,643.75 L363.75,651.25 L358.75,650 L357.5,645 L342.5,643.75 L332.5,645 L327.5,650.5 L321.25,648 L315,641.25 L305,639.5 L302,635 L312.5,627.5 L317.5,620 L322,615 L322.5,607 L315,609.5 L305,607.5 L300,610 L297.5,613.75 L290,614.25 L280,611.25 L272.5,611.25 L262.5,612 L256.25,617.5 L255,623.75 L261.25,627.5 L252.5,633 L248.75,639.5 L242.5,640.5 L235,643.75 L226.25,644.25 L222.5,640 L215,637 L207.5,635 L201.25,628.75 L197.5,623 L190,620.5 L182.5,618.75 L180,615 L172.5,611.25 L162.5,609.5 L155,607 L148.75,607.5 L146.25,611.25 L145,608.75 L136.25,608 L143.75,603.75 L137.5,601.25 L133.75,595 L135,588.75 L135,583.75 L142.5,581.25 L141.25,579.25 L132.5,578.75 L122.5,582.5 L113.75,583.75 L108.75,587 L101.25,583.75 L95,583.75 L88.75,580 L82.5,581.25 L76.25,576.25 L76.25,570 L73.75,566.25 L69.25,564.25 L60,562 Z M738.1,511.25 L743.1,511.6 L743.75,515.4 L742.75,521 L741.9,526.6 L738.75,524.1 L738.1,519.75 L740,515.4 Z M381.25,660 L381.25,651.25 L383.75,643.75 L390,638.75 L396.25,638.75 L396.25,643.75 L391.25,645 L388.75,652.5 L388.75,660 Z" fill="none" stroke="#000" stroke-width="1" stroke-linejoin="round"/>
<path d="M205.5,148.75 L215,152 L225,155 L235,158.25 L245,156.25 L253.75,152 L251.25,150 L257.5,148.75 L266.25,146.25 L266.5,152.5 L262.5,158.75 L258.75,166.25 L255,172.5 L263,171.75 L256.25,174.5 L253,180 L253,190 L255,198.75 L260,206.25 L262,215 L265,222.5 L270.5,228.75 L269.5,233 L266.25,233 L260,225 L251.25,220 L245,213.75 L243.75,206.25 L240.5,203.75 L248.75,198.75 L246.25,192.5 L241.25,185 L240.5,177.5 L235,170 L230,160 L225,156.25 L210,151.25 Z" fill="none" stroke="#000" stroke-width="1"/>
<path d="M176.25,257.5 L185,257.5 L185.75,263.75 L181.25,270.5 L185,272.5 L192.5,269.5 L195.75,271.25 L190,277.5 L182.5,282.5 L173.75,286.25 L170,292.5 L163.75,297.5 L160,303 L153.75,305 L153,307.5 L158.75,310.75 L166.75,311.25 L166.25,315 L161.25,316.25 L160,330 L157.5,333.75 L160.75,338.75 L160,347 L155,345 L151.25,338.75 L151.25,335 L155,332 L155.5,322.5 L147.5,318.75 L145,313.75 L145,308.75 L142.5,306.25 L138.75,303 L141.25,298.75 L147.5,296.25 L150,292.5 L148.75,288.75 L158.75,285 L160.75,280 L161.25,271.25 L170,263.75 Z" fill="none" stroke="#000" stroke-width="1"/>
<path d="M543,343 L550.5,346.25 L545.5,352.5 L541.75,361.25 L534.25,363.75 L532.25,360 L533.5,355 L530.5,352.5 L531.75,350 L538,350 Z" fill="none" stroke="#000" stroke-width="1"/>
<path d="M591.75,318 L600.5,321.25 L615.5,322.5 L620,327.5 L618.5,333.75 L613.5,337 L611.75,347.5 L616.75,352.5 L617.5,358 L610.5,356.25 L603,352 L606.75,346.25 L604.25,340 L594.25,335 L589.25,330 L585.5,322.5 Z" fill="none" stroke="#000" stroke-width="1"/>
<path d="M394.25,441.25 L398,440 L406.75,443.75 L415.5,447.5 L423,447 L425.5,450 L420.5,452.5 L415.5,453.75 L408,451.25 L400.5,448 L394.25,446.25 L393,443.75 Z" fill="none" stroke="#000" stroke-width="1"/>
<path d="M611.75,347.5 L603,352" fill="none" stroke="#000" stroke-width="1"/>
</g>
<g fill="none" stroke-width="1" shape-rendering="crispEdges">
<path d="M640.5,425.5 L644.5,425 L645.5,427 L644.5,428.5 L641,428.5 Z" fill="#1a0a40" stroke="#000" stroke-width="1"/>
<path d="M230.5,142.5 l4,4 l-4,4 l-4,-4 Z" stroke="#000"/><path d="M230.5,144.5 l2,2 l-2,2 l-2,-2 Z" stroke="#f6f0c0"/>
<path d="M260.5,197.5 l4,4 l-4,4 l-4,-4 Z" stroke="#000"/><path d="M260.5,199.5 l2,2 l-2,2 l-2,-2 Z" stroke="#f6f0c0"/>
<path d="M574.5,122.5 l4,4 l-4,4 l-4,-4 Z" stroke="#000"/><path d="M574.5,124.5 l2,2 l-2,2 l-2,-2 Z" stroke="#f6f0c0"/>
<path d="M503.5,275.5 l4,4 l-4,4 l-4,-4 Z" stroke="#000"/><path d="M503.5,277.5 l2,2 l-2,2 l-2,-2 Z" stroke="#f6f0c0"/>
<path d="M452.5,312.5 l4,4 l-4,4 l-4,-4 Z" stroke="#000"/><path d="M452.5,314.5 l2,2 l-2,2 l-2,-2 Z" stroke="#f6f0c0"/>
<path d="M474.5,443.5 l4,4 l-4,4 l-4,-4 Z" stroke="#000"/><path d="M474.5,445.5 l2,2 l-2,2 l-2,-2 Z" stroke="#f6f0c0"/>
<path d="M474.5,462.5 l4,4 l-4,4 l-4,-4 Z" stroke="#000"/><path d="M474.5,464.5 l2,2 l-2,2 l-2,-2 Z" stroke="#f6f0c0"/>
<path d="M508.5,462.5 l4,4 l-4,4 l-4,-4 Z" stroke="#000"/><path d="M508.5,464.5 l2,2 l-2,2 l-2,-2 Z" stroke="#f6f0c0"/>
<path d="M639.5,419.5 l4,4 l-4,4 l-4,-4 Z" stroke="#000"/><path d="M639.5,421.5 l2,2 l-2,2 l-2,-2 Z" stroke="#f6f0c0"/>
<path d="M652.5,398.5 l4,4 l-4,4 l-4,-4 Z" stroke="#000"/><path d="M652.5,400.5 l2,2 l-2,2 l-2,-2 Z" stroke="#f6f0c0"/>
<path d="M709.5,385.5 l4,4 l-4,4 l-4,-4 Z" stroke="#000"/><path d="M709.5,387.5 l2,2 l-2,2 l-2,-2 Z" stroke="#f6f0c0"/>
<path d="M720.5,412.5 l4,4 l-4,4 l-4,-4 Z" stroke="#000"/><path d="M720.5,414.5 l2,2 l-2,2 l-2,-2 Z" stroke="#f6f0c0"/>
<path d="M735.5,423.5 l4,4 l-4,4 l-4,-4 Z" stroke="#000"/><path d="M735.5,425.5 l2,2 l-2,2 l-2,-2 Z" stroke="#f6f0c0"/>
<path d="M739.5,420.5 l4,4 l-4,4 l-4,-4 Z" stroke="#000"/><path d="M739.5,422.5 l2,2 l-2,2 l-2,-2 Z" stroke="#f6f0c0"/>
<path d="M797.5,438.5 l4,4 l-4,4 l-4,-4 Z" stroke="#000"/><path d="M797.5,440.5 l2,2 l-2,2 l-2,-2 Z" stroke="#f6f0c0"/>
<path d="M728.5,488.5 l4,4 l-4,4 l-4,-4 Z" stroke="#000"/><path d="M728.5,490.5 l2,2 l-2,2 l-2,-2 Z" stroke="#f6f0c0"/>
</g>
</g>
<rect x="123" y="689" width="749.9" height="30.75" fill="#f0f0f0"/>
<rect x="115.2" y="683.5" width="62.7" height="30" fill="#2f2f2f" shape-rendering="crispEdges"/>
<rect x="177.6" y="683.5" width="62.7" height="30" fill="#2c1f4b" shape-rendering="crispEdges"/>
<rect x="240" y="683.5" width="62.7" height="30" fill="#26105f" shape-rendering="crispEdges"/>
<rect x="302.4" y="683.5" width="62.7" height="30" fill="#20006e" shape-rendering="crispEdges"/>
<rect x="364.8" y="683.5" width="62.7" height="30" fill="#410878" shape-rendering="crispEdges"/>
<rect x="427.2" y="683.5" width="62.7" height="30" fill="#6f0f87" shape-rendering="crispEdges"/>
<rect x="489.6" y="683.5" width="62.7" height="30" fill="#9e2482" shape-rendering="crispEdges"/>
<rect x="552" y="683.5" width="62.7" height="30" fill="#c44a69" shape-rendering="crispEdges"/>
<rect x="614.4" y="683.5" width="62.7" height="30" fill="#e96d53" shape-rendering="crispEdges"/>
<rect x="676.8" y="683.5" width="62.7" height="30" fill="#f3966b" shape-rendering="crispEdges"/>
<rect x="739.2" y="683.5" width="62.7" height="30" fill="#f5c297" shape-rendering="crispEdges"/>
<rect x="801.6" y="683.5" width="62.7" height="30" fill="#f6f0c0" shape-rendering="crispEdges"/>
<rect x="115.3" y="683.6" width="749.05" height="29.8" fill="none" stroke="#000" stroke-width="1.1"/>
<line x1="115.35" y1="683.5" x2="115.35" y2="717.5" stroke="#000" stroke-width="1"/>
<text x="115.85" y="727" font-size="11" text-anchor="middle" textLength="13.8" lengthAdjust="spacingAndGlyphs">10</text>
<line x1="364.95" y1="683.5" x2="364.95" y2="717.5" stroke="#000" stroke-width="1"/>
<text x="365.45" y="727" font-size="11" text-anchor="middle" textLength="13.8" lengthAdjust="spacingAndGlyphs">12</text>
<line x1="614.55" y1="683.5" x2="614.55" y2="717.5" stroke="#000" stroke-width="1"/>
<text x="615.05" y="727" font-size="11" text-anchor="middle" textLength="13.8" lengthAdjust="spacingAndGlyphs">14</text>
<line x1="864.15" y1="683.5" x2="864.15" y2="717.5" stroke="#000" stroke-width="1"/>
<text x="864.65" y="727" font-size="11" text-anchor="middle" textLength="13.8" lengthAdjust="spacingAndGlyphs">16</text>
<text x="426.2" y="738.2" font-size="11.5" textLength="128" lengthAdjust="spacing" xml:space="preserve">°C  2026/04/21 01:06</text>
<text y="70" font-size="16.5" fill="#222" xml:space="preserve"><tspan x="297.5" textLength="149.5" lengthAdjust="spacing">VictoriaWeather.ca</tspan><tspan x="456.5" dy="-1.5" textLength="25" lengthAdjust="spacingAndGlyphs">--</tspan><tspan x="492" dy="1.5" textLength="101.5" lengthAdjust="spacing">Temperature</tspan></text>
</svg>
</body></html>
